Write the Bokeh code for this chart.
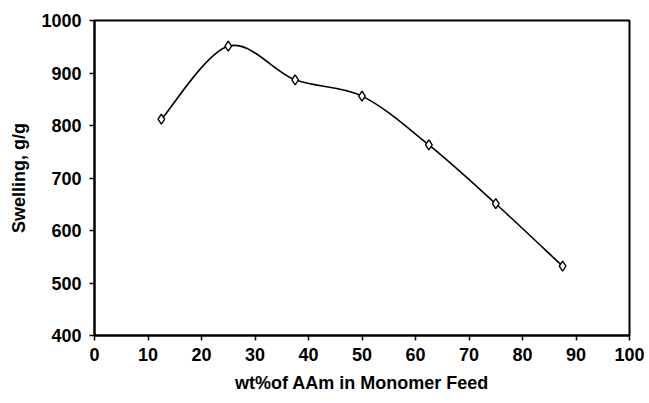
from bokeh.plotting import figure
from bokeh.models import Range1d, FixedTicker
from bokeh.embed import file_html
from bokeh.resources import INLINE

aam_wt = [12.5, 25, 37.5, 50, 62.5, 75, 87.5]
swelling = [812, 951, 887, 856, 763, 651, 532]
x_ticks = [0, 10, 20, 30, 40, 50, 60, 70, 80, 90, 100]
y_ticks = [400, 500, 600, 700, 800, 900, 1000]

# Excel-style smoothed line: cubic Bezier segments with Catmull-Rom control points
n = len(aam_wt)
x0s, y0s, x1s, y1s, cx0, cy0, cx1, cy1 = [], [], [], [], [], [], [], []
for i in range(n - 1):
    xp = aam_wt[i - 1] if i > 0 else aam_wt[i]
    yp = swelling[i - 1] if i > 0 else swelling[i]
    xn = aam_wt[i + 2] if i + 2 < n else aam_wt[i + 1]
    yn = swelling[i + 2] if i + 2 < n else swelling[i + 1]
    x0s.append(aam_wt[i]); y0s.append(swelling[i])
    x1s.append(aam_wt[i + 1]); y1s.append(swelling[i + 1])
    cx0.append(aam_wt[i] + (aam_wt[i + 1] - xp) / 6)
    cy0.append(swelling[i] + (swelling[i + 1] - yp) / 6)
    cx1.append(aam_wt[i + 1] - (xn - aam_wt[i]) / 6)
    cy1.append(swelling[i + 1] - (yn - swelling[i]) / 6)

p = figure(width=649, height=403, output_backend="svg", toolbar_location=None,
           x_range=Range1d(0, 100), y_range=Range1d(400, 1000))
p.min_border_left = 94
p.min_border_right = 20
p.min_border_top = 20
p.min_border_bottom = 68

p.bezier(x0=x0s, y0=y0s, x1=x1s, y1=y1s, cx0=cx0, cy0=cy0, cx1=cx1, cy1=cy1,
         line_color="black", line_width=1.6)
p.scatter(aam_wt, swelling, marker="diamond", size=10, fill_color="white",
          line_color="black", line_width=1.4)

p.grid.visible = False
p.outline_line_color = "black"
p.outline_line_width = 2

for ax in (p.xaxis, p.yaxis):
    ax.axis_line_width = 2
    ax.axis_line_color = "black"
    ax.major_tick_line_width = 1.5
    ax.major_tick_line_color = "black"
    ax.major_tick_out = 5
    ax.major_tick_in = 0
    ax.minor_tick_line_color = None
    ax.major_label_text_font = "Liberation Sans"
    ax.major_label_text_font_style = "bold"
    ax.major_label_text_font_size = "18px"
    ax.major_label_text_color = "black"
    ax.axis_label_text_font = "Liberation Sans"
    ax.axis_label_text_font_style = "bold"
    ax.axis_label_text_color = "black"
    ax.axis_label_text_font_size = "18px"

p.xaxis.ticker = FixedTicker(ticks=x_ticks)
p.yaxis.ticker = FixedTicker(ticks=y_ticks)
p.xaxis.axis_label = "wt%of AAm in Monomer Feed"
p.yaxis.axis_label = "Swelling, g/g"
p.xaxis.major_label_standoff = 7
p.yaxis.major_label_standoff = 8
p.xaxis.axis_label_standoff = 9
p.yaxis.axis_label_standoff = 9

open("out.html", "w").write(file_html(p, INLINE))
